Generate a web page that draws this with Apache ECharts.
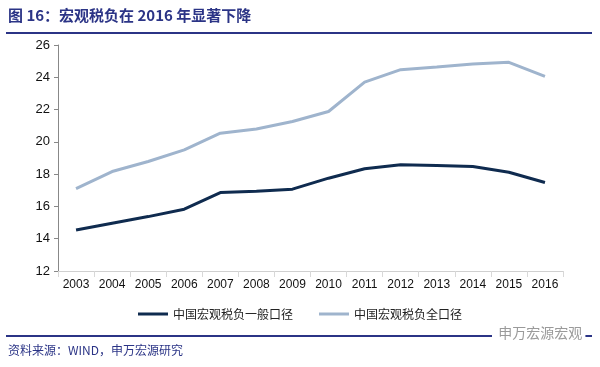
<!DOCTYPE html>
<html><head><meta charset="utf-8">
<script src="https://cdn.jsdelivr.net/npm/echarts@6/dist/echarts.min.js"></script>
<style>html,body{margin:0;padding:0;background:#fff}#c{width:600px;height:367px}</style>
</head><body><div id="c"></div>
<script>
var years = ['2003','2004','2005','2006','2007','2008','2009','2010','2011','2012','2013','2014','2015','2016'];
var generalTax = [14.54,14.96,15.37,15.83,16.86,16.94,17.07,17.75,18.33,18.58,18.54,18.47,18.12,17.48];
var fullTax = [17.1,18.16,18.78,19.5,20.54,20.8,21.26,21.88,23.7,24.47,24.64,24.82,24.93,24.05];
var seriesNames = ['中国宏观税负一般口径','中国宏观税负全口径'];
var titleText = '图 16：宏观税负在 2016 年显著下降';
var sourceText = '资料来源：WIND，申万宏源研究';
var watermark = '申万宏源宏观';

var chart = echarts.init(document.getElementById('c'));
chart.setOption({
  animation:false,
  backgroundColor:'#fff',
  textStyle:{fontFamily:'Liberation Sans, Arial, sans-serif'},
  graphic:[
    {type:'text',left:8,top:8,style:{text:titleText,fill:'#2b3486',font:'bold 15px "Noto Sans CJK SC"'}},
    {type:'rect',shape:{x:6,y:32,width:586,height:2},style:{fill:'#2b3486'}},
    {type:'rect',shape:{x:6,y:335,width:586,height:2},style:{fill:'#2b3486'}},
    {type:'text',left:492,top:326,z:10,style:{text:'  ' + watermark + ' ',fill:'#9a9a9a',backgroundColor:'#fff',font:'14px "Noto Sans CJK SC"'}},
    {type:'text',left:8,top:344,style:{text:sourceText,fill:'#2b3486',font:'12px "Noto Sans CJK SC"'}}
  ],
  grid:{left:58,right:37,top:45,bottom:96,containLabel:false},
  legend:{
    top:303,left:'center',itemGap:26,itemWidth:30,itemHeight:3,
    icon:'rect',
    textStyle:{fontFamily:'Noto Sans CJK SC',fontSize:12,color:'#222'},
    data:seriesNames
  },
  xAxis:{
    type:'category',data:years,boundaryGap:true,
    axisLine:{lineStyle:{color:'#d0d0d0'}},
    axisTick:{show:true,alignWithLabel:false,length:6,lineStyle:{color:'#d8d8d8'}},
    axisLabel:{color:'#111',fontSize:12,margin:8,interval:0}
  },
  yAxis:{
    type:'value',min:12,max:26,interval:2,
    axisLine:{show:true,lineStyle:{color:'#888'}},
    axisTick:{show:true,length:4,lineStyle:{color:'#888'}},
    axisLabel:{color:'#111',fontSize:13,margin:8},
    splitLine:{show:false}
  },
  series:[
    {name:seriesNames[0],type:'line',data:generalTax,symbol:'none',lineStyle:{color:'#0f2b4f',width:3},itemStyle:{color:'#0f2b4f'}},
    {name:seriesNames[1],type:'line',data:fullTax,symbol:'none',lineStyle:{color:'#9fb4cd',width:3},itemStyle:{color:'#9fb4cd'}}
  ]
});
</script></body></html>
